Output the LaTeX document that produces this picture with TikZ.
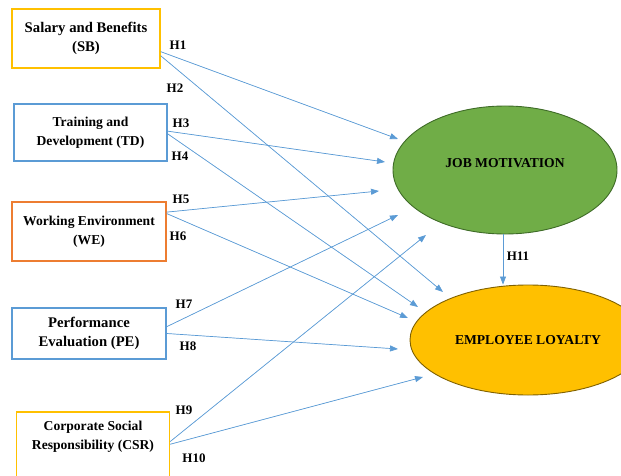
\documentclass[tikz,border=0pt]{standalone}
\usepackage{fontspec}
\setmainfont{Liberation Serif}
\usetikzlibrary{arrows.meta,shapes.geometric}

\definecolor{goldline}{HTML}{FFC000}
\definecolor{blueline}{HTML}{5B9BD5}
\definecolor{orangeline}{HTML}{ED7D31}
\definecolor{motivfill}{HTML}{70AD47}
\definecolor{motivline}{HTML}{3E6B27}
\definecolor{loyalfill}{HTML}{FFC000}
\definecolor{loyalline}{HTML}{7F6000}

\begin{document}
\begin{tikzpicture}[
  x=1pt, y=-1pt,
  factor/.style={draw, line width=1.4pt, align=center, inner sep=0pt,
                 font=\fontsize{13.6}{19}\selectfont\bfseries},
  bigtext/.style={font=\fontsize{14.7}{19}\selectfont\bfseries},
  outcome/.style={ellipse, draw, line width=0.9pt, inner sep=0pt},
  title/.style={font=\fontsize{13.6}{16}\selectfont\bfseries, inner sep=1pt},
  hyp/.style={font=\fontsize{13}{15}\selectfont\bfseries, inner sep=1pt},
  link/.style={draw=blueline, line width=0.7pt,
               -{Triangle[length=8pt, width=6pt]}, fill=blueline}
]
\useasboundingbox (0,0) rectangle (621,476);

% ── the five factors ─────────────────────────────────────────────────
\node[factor, bigtext, draw=goldline, minimum width=148pt, minimum height=59pt]
  (sb) at (86,38.5) {Salary and Benefits\\(SB)};
\node[factor, draw=blueline, minimum width=153pt, minimum height=57pt]
  (td) at (90.5,132.5) {Training and\\Development (TD)};
\node[factor, draw=orangeline, minimum width=154pt, minimum height=59pt]
  (we) at (89,231.5) {Working Environment\\(WE)};
\node[factor, bigtext, draw=blueline, minimum width=154pt, minimum height=51pt]
  (pe) at (89,333.5) {Performance\\Evaluation (PE)};
\node[factor, draw=goldline, minimum width=153pt, minimum height=78pt]
  (csr) at (93,451) {};
\node[factor, draw=none] (csrtext) at (93,437) {Corporate Social\\Responsibility (CSR)};

% ── the two outcomes ─────────────────────────────────────────────────
\node[outcome, fill=motivfill, draw=motivline, minimum width=224pt, minimum height=128pt]
  (jm) at (505,170) {};
\node[title] (jmtext) at (505,163) {JOB MOTIVATION};
\node[outcome, fill=loyalfill, draw=loyalline, minimum width=236pt, minimum height=110pt]
  (el) at (528,340) {};
\node[title] (eltext) at (528,340) {EMPLOYEE LOYALTY};

% ── arrow tips (they stop short of the ellipses) ─────────────────────
\coordinate (t1)  at (398,139);
\coordinate (t2)  at (443,292);
\coordinate (t3)  at (385,162);
\coordinate (t4)  at (418,307);
\coordinate (t5)  at (379,191);
\coordinate (t6)  at (408,318);
\coordinate (t7)  at (398,215);
\coordinate (t8)  at (398,349);
\coordinate (t9)  at (426,235);
\coordinate (t10) at (423,377);

% ── hypotheses ───────────────────────────────────────────────────────
\draw[link] (sb.-10) -- (t1);
\draw[link] (sb.-13) -- (t2);
\draw[link] (td.1) -- (t3);
\draw[link] (td.-1) -- (t4);
\draw[link] (we.14) -- (t5);
\draw[link] (we.13) -- (t6);
\draw[link] (pe.5) -- (t7);
\draw[link] (pe.0) -- (t8);
\draw[link] (csr.7) -- (t9);
\draw[link] (csr.5) -- (t10);
\draw[link] ([xshift=-2pt]jm.south) -- ([xshift=-2pt]jm.south |- el.north);

% ── labels ───────────────────────────────────────────────────────────
\node[hyp] (h1)  at (178,45)  {H1};
\node[hyp] (h2)  at (175,88)  {H2};
\node[hyp] (h3)  at (181,123) {H3};
\node[hyp] (h4)  at (180,156) {H4};
\node[hyp] (h5)  at (181,199) {H5};
\node[hyp] (h6)  at (178,236) {H6};
\node[hyp] (h7)  at (184,304) {H7};
\node[hyp] (h8)  at (188,346) {H8};
\node[hyp] (h9)  at (184,410) {H9};
\node[hyp] (h10) at (194,458) {H10};
\node[hyp] (h11) at (518,256) {H11};

\end{tikzpicture}
\end{document}
